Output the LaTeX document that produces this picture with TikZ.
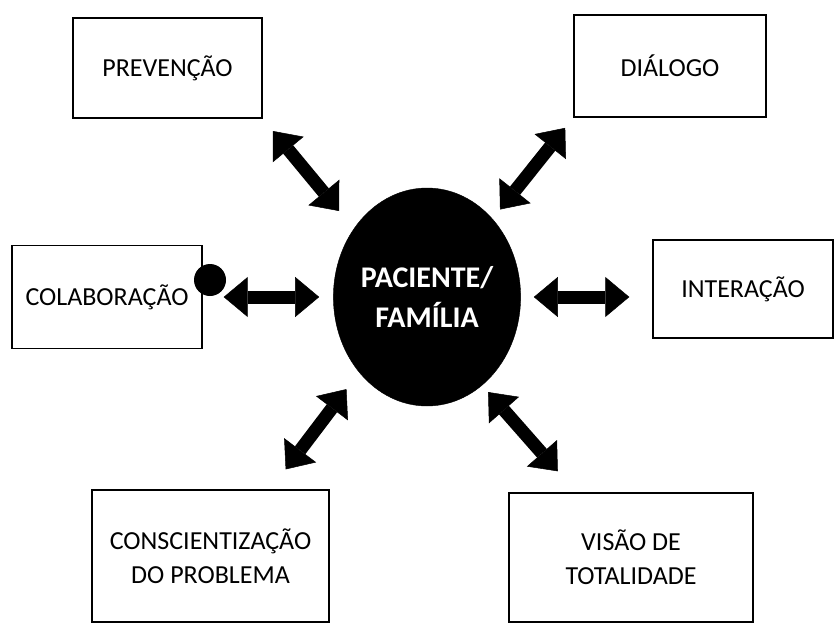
\documentclass[tikz,border=0pt]{standalone}
\usepackage{fontspec}
\setmainfont{Carlito}
\usetikzlibrary{arrows.meta,shapes.geometric,positioning}
\tikzstyle{box} = [draw, rectangle, line width=1.4pt, inner sep=0pt,
    align=center, font=\fontsize{26}{34}\selectfont]
\tikzstyle{core} = [draw, ellipse, fill=black, text=white, inner sep=0pt,
    minimum width=178pt, minimum height=218pt, align=center,
    font=\fontsize{30}{40}\selectfont\bfseries]
\tikzstyle{link} = [line width=13pt,
    {Triangle[width=40pt,length=24pt,line width=0.5pt]}-{Triangle[width=40pt,length=24pt,line width=0.5pt]}]
\tikzstyle{knob} = [circle, fill=black, inner sep=0pt, minimum size=32pt]

\begin{document}
\begin{tikzpicture}[x=1pt, y=-1pt, on grid]
  \useasboundingbox (0,0) rectangle (834,623);
  \node [core] (pac) at (427,297) {PACIENTE/\\FAMÍLIA};
  \node [box, minimum width=189pt, minimum height=100pt,
    above left=229pt and 259.5pt of pac] (prev) {PREVENÇÃO};
  \node [box, minimum width=192pt, minimum height=102pt,
    above right=231pt and 243pt of pac] (dial) {DIÁLOGO};
  \node [box, minimum width=190pt, minimum height=103pt,
    left=320pt of pac] (colab) {COLABORAÇÃO};
  \node [box, minimum width=180pt, minimum height=98pt,
    above right=8pt and 316pt of pac] (inter) {INTERAÇÃO};
  \node [box, minimum width=237pt, minimum height=132pt,
    below left=259pt and 216.5pt of pac] (consc) {CONSCIENTIZAÇÃO\\DO PROBLEMA};
  \node [box, minimum width=244pt, minimum height=129pt,
    below right=260.5pt and 204pt of pac] (visao) {VISÃO DE\\TOTALIDADE};
  \node [knob] (dot) at (210,280) {};
  % double arrows round the centre
  \draw [link, shorten <=16pt, shorten >=23pt] (prev.south east) -- (pac.137);
  \draw [link, shorten <=13pt, shorten >=12pt] (dial.south west) -- (pac.50);
  \draw [link, shorten <=21pt, shorten >=14pt] (colab.east) -- (pac.west);
  \draw [link, shorten <=13pt, shorten >=23pt] (pac.east) -- (pac.east -| inter.west);
  \draw [link, shorten <=21pt, shorten >=25pt] (pac.228) -- (consc.48);
  \draw [link, shorten <=9pt, shorten >=28pt] (pac.302) -- (visao.130);
\end{tikzpicture}
\end{document}
